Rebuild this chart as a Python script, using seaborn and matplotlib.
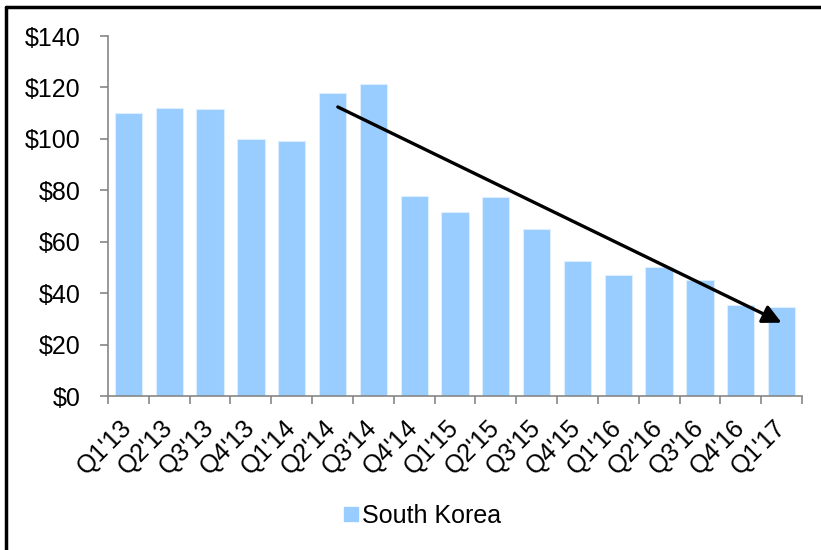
import matplotlib
matplotlib.use("Agg")
import matplotlib.pyplot as plt
from matplotlib.lines import Line2D
import seaborn as sns
import pandas as pd
import numpy as np

quarters = ["Q1'13", "Q2'13", "Q3'13", "Q4'13", "Q1'14", "Q2'14", "Q3'14", "Q4'14",
            "Q1'15", "Q2'15", "Q3'15", "Q4'15", "Q1'16", "Q2'16", "Q3'16", "Q4'16", "Q1'17"]
values = [110, 112, 111.5, 100, 99, 117.7, 121.2, 77.7, 71.7, 77.3, 65.1, 52.5, 47.2, 50.2, 45.0, 35.3, 34.5]
series_name = "South Korea"
y_ticks = [0, 20, 40, 60, 80, 100, 120, 140]
arrow_start = (5.13, 112.4)
arrow_end = (16.0, 28.5)

df = pd.DataFrame({"quarter": quarters, "value": values})

sns.set_theme(style="white")
plt.rcParams['font.family'] = ['Liberation Sans', 'DejaVu Sans']
plt.rcParams['text.color'] = 'black'
plt.rcParams['xtick.labelcolor'] = 'black'
plt.rcParams['ytick.labelcolor'] = 'black'

fig = plt.figure(figsize=(8.21, 5.5), dpi=100)
ax = fig.add_axes([108/821, 1-396/550, (802-108)/821, (396-36)/550])

color = "#99CCFF"
sns.barplot(data=df, x="quarter", y="value", color=color, width=0.67,
            saturation=1, edgecolor="#DDEEFF", linewidth=0.8, ax=ax, label=series_name)

ax.set_xlim(-0.5, len(quarters) - 0.5)
ax.set_ylim(0, 140)
ax.set_yticks(y_ticks)
ax.set_yticklabels([f"${v}" for v in y_ticks], fontsize=18, color="black")
ax.set_xlabel("")
ax.set_ylabel("")

gray = "#868686"
for s in ["top", "right"]:
    ax.spines[s].set_visible(False)
for s in ["left", "bottom"]:
    ax.spines[s].set_color(gray)
    ax.spines[s].set_linewidth(1.2)

ax.tick_params(axis="y", which="major", length=6, width=1.2, color=gray, left=True, direction="out", pad=14)
ax.set_xticks(np.arange(len(quarters)))
ax.set_xticks(np.arange(-0.5, len(quarters), 1), minor=True)
ax.tick_params(axis="x", which="major", length=0, pad=20)
ax.tick_params(axis="x", which="minor", length=6, width=1.2, color=gray, bottom=True, direction="out")
ax.set_xticklabels(quarters, rotation=45, ha="right", va="center", rotation_mode="anchor",
                   fontsize=18, color="black")

ax.annotate("", xy=arrow_end, xytext=arrow_start,
            arrowprops=dict(arrowstyle="-|>", color="black", lw=2.4, mutation_scale=28,
                            shrinkA=0, shrinkB=0))

handles = [Line2D([0], [0], marker="s", linestyle="none", markersize=10,
                  markerfacecolor=color, markeredgecolor=color)]
leg = fig.legend(handles, [series_name], loc="center", bbox_to_anchor=(421/821, 1-516/550),
                 frameon=False, fontsize=18, handletextpad=0.05, handlelength=0.8)
for t in leg.get_texts():
    t.set_color("black")
if ax.get_legend() is not None:
    ax.get_legend().remove()

# chart border (top and left visible)
fig.add_artist(Line2D([6/821, 1.0], [1-7/550, 1-7/550], transform=fig.transFigure, color="black", lw=2.5))
fig.add_artist(Line2D([6/821, 6/821], [0.0, 1-7/550], transform=fig.transFigure, color="black", lw=2.5))

fig.savefig("out.png", dpi=100)
